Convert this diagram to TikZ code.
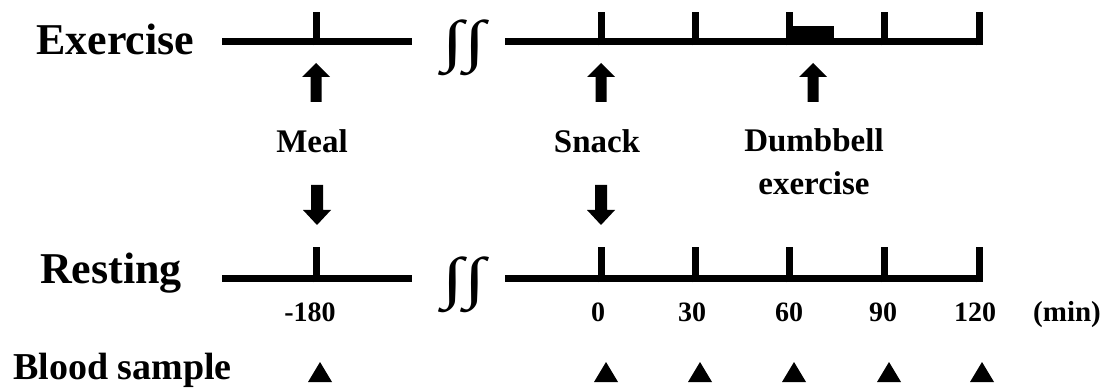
\documentclass[tikz,border=0pt]{standalone}
\usepackage{graphicx}
\usepackage{fontspec}
\setmainfont{Liberation Serif}
\begin{document}
\begin{tikzpicture}[x=1pt,y=-1pt,
  axis/.style={line width=7pt},
  big/.style={inner sep=0pt, anchor=base west, font=\bfseries\fontsize{44}{50}\selectfont},
  mid/.style={inner sep=0pt, anchor=base, font=\bfseries\fontsize{33}{43}\selectfont, align=center},
  num/.style={inner sep=0pt, anchor=base, font=\bfseries\fontsize{28}{32}\selectfont},
  brk/.style={inner sep=0pt},
  uparr/.pic={\fill (0,0) -- (14,14) -- (5.5,14) -- (5.5,39) -- (-5.5,39) -- (-5.5,14) -- (-14,14) -- cycle;},
  dnarr/.pic={\fill (0,0) -- (14,-15) -- (6,-15) -- (6,-40) -- (-6,-40) -- (-6,-15) -- (-14,-15) -- cycle;},
  samp/.pic={\fill (-12,10) -- (12,10) -- (0,-10) -- cycle;}]
\useasboundingbox (0,0) rectangle (1120,390);
% labels
\node[big] (ex) at (36,55) {Exercise};
\node[big] (re) at (40,284) {Resting};
\node[big, font=\bfseries\fontsize{38}{44}\selectfont] (bs) at (13,379) {Blood sample};
% exercise timeline
\coordinate (e1) at (222,42);
\coordinate (e2) at (412,42);
\coordinate (e3) at (505,42);
\coordinate (e4) at (982.5,42);
\draw[axis] (e1) -- (e2);
\draw[axis] (e3) -- (e4);
\foreach \x in {316,601,695,789,884,979} \draw[axis] (\x,45.5) -- (\x,12);
\fill (787,26) rectangle (834,42);
\node[brk] (eb) at (464,47.5) {\resizebox*{42pt}{56pt}{∫∫}};
% resting timeline
\coordinate (r1) at (222,279);
\coordinate (r2) at (412,279);
\coordinate (r3) at (505,279);
\coordinate (r4) at (982.5,279);
\draw[axis] (r1) -- (r2);
\draw[axis] (r3) -- (r4);
\foreach \x in {316,601,695,789,884,979} \draw[axis] (\x,282.5) -- (\x,247);
\node[brk] (rb) at (464,285) {\resizebox*{42pt}{56pt}{∫∫}};
% arrows
\pic at (316,63) {uparr};
\pic at (601,63) {uparr};
\pic at (813,63) {uparr};
\pic at (317,225) {dnarr};
\pic at (601,225) {dnarr};
% event labels
\node[mid] (meal) at (312,153) {Meal};
\node[mid] (snack) at (597,153) {Snack};
\node[mid] (db) at (814,195) {Dumbbell\\exercise};
% times
\node[num] (t0) at (310,322) {-180};
\node[num] (t1) at (598,322) {0};
\node[num] (t2) at (692,322) {30};
\node[num] (t3) at (789,322) {60};
\node[num] (t4) at (883,322) {90};
\node[num] (t5) at (975,322) {120};
\node[num, anchor=base west, font=\bfseries\fontsize{29}{32}\selectfont] (unit) at (1033,322) {(min)};
% samples
\foreach \x in {320,606,700,794,889,982} \pic at (\x,372) {samp};
\end{tikzpicture}
\end{document}
